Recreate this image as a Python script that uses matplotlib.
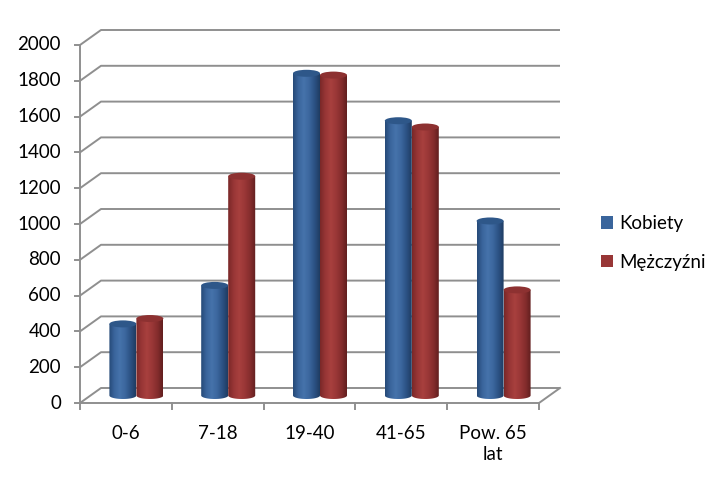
import numpy as np
import matplotlib
matplotlib.use("Agg")
import matplotlib.pyplot as plt
from matplotlib.patches import Ellipse, Polygon, Patch

plt.rcParams['font.family'] = ['Lato', 'DejaVu Sans']

# data
categories = ['0-6', '7-18', '19-40', '41-65', 'Pow. 65\nlat']
kobiety = [400, 615, 1800, 1535, 975]
mezczyzni = [430, 1225, 1790, 1500, 590]
series_names = ['Kobiety', 'Mężczyźni']
yticks = list(range(0, 2001, 200))

# layout (pixel scale of the fake 3D box)
W, H = 727, 486
sx = 91.8      # px per category
sy = 0.179     # px per value unit
ox, oy = 80, 403   # front origin in px
depth_x = 21 / sx  # back wall offset
depth_y = 15 / sy
fs = 13.5

grid_col = '#8f8f8f'
blue_cols = ['#264a78', '#3a659c', '#4673ab', '#3c679e', '#2c5284', '#1f3c62']
red_cols = ['#7a2828', '#983636', '#a8403e', '#9a3737', '#852d2d', '#621f1f']
top_cols = ['#2e5789', '#8d3131']

fig = plt.figure(figsize=(W / 100, H / 100), dpi=100)
ax = fig.add_axes([0, 0, 1, 1])
ax.set_axis_off()
xlim = (-ox / sx, (W - ox) / sx)
ylim = (-(H - oy) / sy, oy / sy)

n = len(categories)

# gridlines: left wall diagonal + back wall
for v in yticks:
    ax.plot([0, depth_x, n + depth_x], [v, v + depth_y, v + depth_y],
            color=grid_col, lw=1.4, solid_capstyle='butt', zorder=1)
    ax.plot([-5 / sx, 0], [v, v], color=grid_col, lw=1.4, zorder=1)
    ax.text(-19 / sx, v, str(v), ha='right', va='center', fontsize=fs, color='#000000')

# front axis, floor
ax.plot([0, 0], [0, yticks[-1]], color=grid_col, lw=1.4, zorder=1)
ax.plot([0, n, n + depth_x], [0, 0, depth_y], color=grid_col, lw=1.4, zorder=1)
for i in range(n + 1):
    ax.plot([i, i], [0, -6 / sy], color=grid_col, lw=1.4, zorder=1)

for i, lab in enumerate(categories):
    ax.text(i + 0.5, -22 / sy, lab, ha='center', va='top', fontsize=fs,
            linespacing=1.3, color='#000000')


def cylinder(x0, w, base, top, cols, top_col, z):
    eh = 7 / sy
    t = np.linspace(np.pi, 2 * np.pi, 40)
    xs = x0 + w / 2 + w / 2 * np.cos(t)
    ys = base + eh / 2 * np.sin(t)
    pts = [(x0, top)] + list(zip(xs, ys)) + [(x0 + w, top)]
    clip = Polygon(pts, closed=True, facecolor='none', edgecolor='none')
    ax.add_patch(clip)
    grad = np.array([matplotlib.colors.to_rgb(c) for c in cols])
    xx = np.linspace(0, 1, 60)
    img = np.stack([np.interp(xx, np.linspace(0, 1, len(cols)), grad[:, k]) for k in range(3)], axis=-1)
    im = ax.imshow(img[np.newaxis, :, :], extent=[x0, x0 + w, base - eh, top],
                   aspect='auto', interpolation='bilinear', zorder=z)
    im.set_clip_path(clip)
    ax.add_patch(Ellipse((x0 + w / 2, top), w, eh, facecolor=top_col,
                         edgecolor='none', zorder=z + 0.1))


bw = 27 / sx
for i in range(n):
    cx = i + 0.5 + depth_x / 2
    base = depth_y / 2
    cylinder(cx - bw, bw, base, kobiety[i] + base, blue_cols, top_cols[0], 3)
    cylinder(cx, bw, base, mezczyzni[i] + base, red_cols, top_cols[1], 4)

ax.set_xlim(*xlim)
ax.set_ylim(*ylim)

handles = [Patch(facecolor='#3a659c', edgecolor='none'),
           Patch(facecolor='#983636', edgecolor='none')]
ax.legend(handles, series_names, loc='center left',
          bbox_to_anchor=(601 / W, 1 - 243 / H), frameon=False,
          fontsize=fs, handlelength=0.65, handleheight=0.65,
          handletextpad=0.3, labelspacing=1.15, borderpad=0, borderaxespad=0)

fig.savefig('out.png', dpi=100, facecolor='white')
